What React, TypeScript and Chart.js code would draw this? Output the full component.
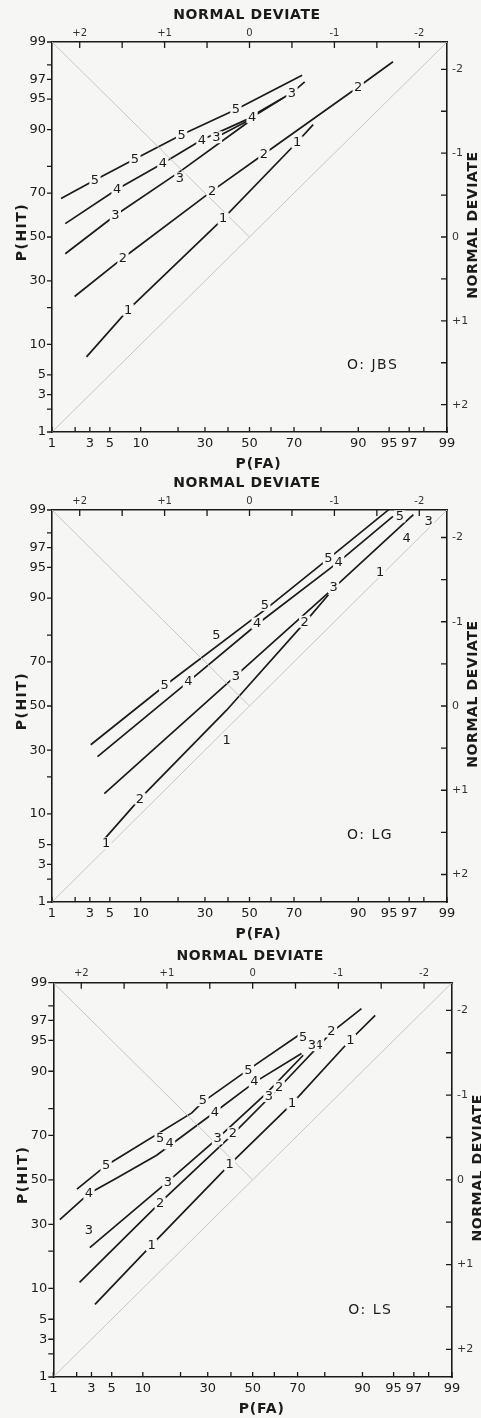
import React, { useEffect, useRef } from "react";
import { Chart, registerables } from "chart.js";

Chart.register(...registerables);

type Pt = [number, number];
type Mark = [string, number, number];

// ---------- axis ticks (probabilities in %, normal deviates) ----------
const P_TICK_LABELS = [1, 3, 5, 10, 30, 50, 70, 90, 95, 97, 99];
const FA_TICK_MARKS = [1, 2, 3, 5, 10, 20, 30, 40, 50, 60, 70, 80, 90, 95, 97, 98, 99];
const HIT_TICK_MARKS = [1, 2, 3, 5, 10, 20, 30, 50, 70, 80, 90, 95, 97, 98, 99];
const DEVIATE_LABELS = [-2, -1, 0, 1, 2];
const DEVIATE_MARKS = [-2, -1.5, -1, -0.5, 0, 0.5, 1, 1.5, 2];

// ---------- data: points as [z(FA), z(HIT)] (normal deviate units) ----------
// Observer JBS
const JBS_LINE_5: Pt[] = [[-2.22, 0.46], [-1.82, 0.68], [-1.35, 0.93], [-0.8, 1.22], [-0.16, 1.52], [0.62, 1.93]];
const JBS_LINE_4: Pt[] = [[-2.17, 0.16], [-1.56, 0.57], [-1.02, 0.88], [-0.56, 1.16], [0.03, 1.43], [0.4, 1.66]];
const JBS_LINE_3: Pt[] = [[-2.17, -0.2], [-1.58, 0.26], [-0.82, 0.78], [-0.03, 1.36], [0.09, 1.48], [0.5, 1.72], [0.65, 1.85]];
const JBS_LINE_3B: Pt[] = [[-0.39, 1.19], [-0.03, 1.38]];
const JBS_LINE_2: Pt[] = [[-2.06, -0.71], [-1.49, -0.25], [-0.44, 0.55], [0.17, 0.99], [1.28, 1.79], [1.69, 2.09]];
const JBS_LINE_1: Pt[] = [[-1.92, -1.43], [-1.43, -0.87], [-0.31, 0.22], [0.56, 1.13], [0.75, 1.34]];
const JBS_POINTS: Mark[] = [
  ["5", -1.82, 0.68], ["5", -1.35, 0.93], ["5", -0.8, 1.22], ["5", -0.16, 1.52],
  ["4", -1.56, 0.57], ["4", -1.02, 0.88], ["4", -0.56, 1.16], ["4", 0.03, 1.43],
  ["3", -1.58, 0.26], ["3", -0.82, 0.7], ["3", -0.39, 1.19], ["3", 0.5, 1.72],
  ["2", -1.49, -0.25], ["2", -0.44, 0.55], ["2", 0.17, 0.99], ["2", 1.28, 1.79],
  ["1", -1.43, -0.87], ["1", -0.31, 0.22], ["1", 0.56, 1.13],
];

// Observer LG
const LG_LINE_5: Pt[] = [[-1.87, -0.46], [-1.0, 0.24], [0.18, 1.14], [0.93, 1.75], [1.64, 2.33]];
const LG_LINE_4: Pt[] = [[-1.79, -0.6], [-0.72, 0.29], [0.09, 0.97], [1.05, 1.71], [1.69, 2.25]];
const LG_LINE_3: Pt[] = [[-1.71, -1.04], [-0.16, 0.36], [0.99, 1.4], [1.93, 2.27]];
const LG_LINE_2: Pt[] = [[-1.71, -1.58], [-1.29, -1.1], [-0.27, -0.05], [0.65, 0.99], [0.93, 1.32]];
const LG_POINTS: Mark[] = [
  ["5", -1.0, 0.25], ["5", -0.39, 0.84], ["5", 0.18, 1.2], ["5", 0.93, 1.75], ["5", 1.77, 2.25],
  ["4", -0.72, 0.29], ["4", 0.09, 0.98], ["4", 1.05, 1.71], ["4", 1.85, 1.99],
  ["3", -0.16, 0.36], ["3", 0.99, 1.41], ["3", 2.11, 2.19],
  ["2", -1.29, -1.1], ["2", 0.65, 1.0],
  ["1", -1.69, -1.63], ["1", -0.27, -0.4], ["1", 1.54, 1.59],
];

// Observer LS
const LS_LINE_5: Pt[] = [[-2.05, -0.11], [-1.71, 0.17], [-0.71, 0.79], [-0.58, 0.92], [-0.05, 1.3], [0.57, 1.73]];
const LS_LINE_4: Pt[] = [[-2.25, -0.47], [-1.91, -0.16], [-1.59, 0.02], [-1.12, 0.29], [-0.44, 0.8], [0.02, 1.15], [0.57, 1.49]];
const LS_LINE_3: Pt[] = [[-1.9, -0.8], [-1.0, -0.03], [-0.41, 0.49], [0.16, 1.02], [0.59, 1.47]];
const LS_LINE_2: Pt[] = [[-2.02, -1.21], [-1.08, -0.27], [-0.23, 0.54], [0.31, 1.09], [0.92, 1.74], [1.27, 2.02]];
const LS_LINE_1: Pt[] = [[-1.84, -1.47], [-1.18, -0.77], [-0.27, 0.18], [0.46, 0.9], [1.14, 1.65], [1.43, 1.94]];
const LS_POINTS: Mark[] = [
  ["5", -1.71, 0.17], ["5", -1.08, 0.49], ["5", -0.58, 0.94], ["5", -0.05, 1.29], ["5", 0.59, 1.68],
  ["4", -1.91, -0.16], ["4", -0.97, 0.43], ["4", -0.44, 0.8], ["4", 0.02, 1.16], ["4", 0.77, 1.59],
  ["3", -1.91, -0.59], ["3", -0.99, -0.03], ["3", -0.41, 0.49], ["3", 0.19, 0.99], ["3", 0.69, 1.59],
  ["2", -1.08, -0.27], ["2", -0.23, 0.55], ["2", 0.31, 1.1], ["2", 0.92, 1.75],
  ["1", -1.18, -0.77], ["1", -0.27, 0.18], ["1", 0.46, 0.9], ["1", 1.14, 1.65],
];

// ---------- helpers ----------
function probit(p: number): number {
  const a = [-39.69683028665376, 220.9460984245205, -275.9285104469687, 138.357751867269, -30.66479806614716, 2.506628277459239];
  const b = [-54.47609879822406, 161.5858368580409, -155.6989798598866, 66.80131188771972, -13.28068155288572];
  const c = [-0.007784894002430293, -0.3223964580411365, -2.400758277161838, -2.549671043384486, 4.374664141464968, 2.938163982698783];
  const d = [0.007784695709041462, 0.3224671290700398, 2.445134137142996, 3.754408661907416];
  const plow = 0.02425;
  if (p < plow) {
    const q = Math.sqrt(-2 * Math.log(p));
    return (((((c[0] * q + c[1]) * q + c[2]) * q + c[3]) * q + c[4]) * q + c[5]) / ((((d[0] * q + d[1]) * q + d[2]) * q + d[3]) * q + 1);
  }
  if (p <= 1 - plow) {
    const q = p - 0.5;
    const r = q * q;
    return ((((((a[0] * r + a[1]) * r + a[2]) * r + a[3]) * r + a[4]) * r + a[5]) * q) / (((((b[0] * r + b[1]) * r + b[2]) * r + b[3]) * r + b[4]) * r + 1);
  }
  const q = Math.sqrt(-2 * Math.log(1 - p));
  return -(((((c[0] * q + c[1]) * q + c[2]) * q + c[3]) * q + c[4]) * q + c[5]) / ((((d[0] * q + d[1]) * q + d[2]) * q + d[3]) * q + 1);
}

const Z_MIN = probit(0.01);
const Z_MAX = probit(0.99);
const BG = "#f6f6f4";
const INK = "#1b1b1b";
const GRAY = "#c6c6c4";
const FONT = '"DejaVu Sans", "Liberation Sans", sans-serif';

function deviateLabel(z: number): string {
  if (z === 0) return "0";
  return z < 0 ? "+" + -z : "-" + z;
}

type Frame = { canvasTop: number; canvasH: number; left: number; right: number; top: number; bottom: number };
type PanelCfg = { name: string; lines: Pt[][]; points: Mark[]; frame: Frame };

const PANELS: PanelCfg[] = [
  {
    name: "O: JBS",
    lines: [JBS_LINE_5, JBS_LINE_4, JBS_LINE_3, JBS_LINE_3B, JBS_LINE_2, JBS_LINE_1],
    points: JBS_POINTS,
    frame: { canvasTop: 0, canvasH: 474, left: 52, right: 447, top: 42, bottom: 432 },
  },
  {
    name: "O: LG",
    lines: [LG_LINE_5, LG_LINE_4, LG_LINE_3, LG_LINE_2],
    points: LG_POINTS,
    frame: { canvasTop: 474, canvasH: 470, left: 52, right: 447, top: 510, bottom: 902 },
  },
  {
    name: "O: LS",
    lines: [LS_LINE_5, LS_LINE_4, LS_LINE_3, LS_LINE_2, LS_LINE_1],
    points: LS_POINTS,
    frame: { canvasTop: 944, canvasH: 474, left: 53.3, right: 452, top: 982.7, bottom: 1377 },
  },
];

function Panel({ cfg }: { cfg: PanelCfg }) {
  const ref = useRef<HTMLCanvasElement | null>(null);
  const f = cfg.frame;

  useEffect(() => {
    const canvas = ref.current;
    if (!canvas) return;

    const lineStyle = { borderColor: INK, borderWidth: 1.7, pointRadius: 0, showLine: true, fill: false, tension: 0 };
    const diagStyle = { borderColor: GRAY, borderWidth: 1, pointRadius: 0, showLine: true, fill: false, tension: 0 };

    const datasets: any[] = [
      { ...diagStyle, data: [{ x: Z_MIN, y: Z_MIN }, { x: Z_MAX, y: Z_MAX }] },
      { ...diagStyle, data: [{ x: Z_MIN, y: Z_MAX }, { x: 0, y: 0 }] },
      ...cfg.lines.map((l) => ({ ...lineStyle, data: l.map(([x, y]) => ({ x, y })) })),
    ];

    const pTicks = (s: any) => {
      s.ticks = P_TICK_LABELS.map((p) => ({ value: probit(p / 100) }));
    };
    const zTicks = (s: any) => {
      s.ticks = DEVIATE_LABELS.map((v) => ({ value: v }));
    };
    const base = {
      type: "linear" as const,
      min: Z_MIN,
      max: Z_MAX,
      grid: { display: false, drawTicks: false, tickLength: 0 },
      border: { display: true, color: INK, width: 1.6 },
    };

    const overlay = {
      id: "overlay",
      afterDatasetsDraw(chart: any) {
        const { ctx } = chart;
        const sx = chart.scales.x;
        const sy = chart.scales.y;
        ctx.save();
        ctx.font = `13px ${FONT}`;
        ctx.textAlign = "center";
        ctx.textBaseline = "middle";
        for (const [t, x, y] of cfg.points) {
          const px = sx.getPixelForValue(x);
          const py = sy.getPixelForValue(y);
          const w = ctx.measureText(t).width + 3;
          ctx.fillStyle = BG;
          ctx.fillRect(px - w / 2, py - 6, w, 12);
          ctx.fillStyle = INK;
          ctx.fillText(t, px, py + 0.5);
        }
        ctx.restore();
      },
      afterDraw(chart: any) {
        const { ctx, chartArea } = chart;
        const { left, right, top, bottom } = chartArea;
        const sx = chart.scales.x;
        const sy = chart.scales.y;
        const sxt = chart.scales.xTop;
        const syr = chart.scales.yRight;
        ctx.save();
        ctx.strokeStyle = INK;
        ctx.lineWidth = 1.3;
        ctx.beginPath();
        for (const p of FA_TICK_MARKS) {
          const x = sx.getPixelForValue(probit(p / 100));
          ctx.moveTo(x, bottom);
          ctx.lineTo(x, bottom - 5);
        }
        for (const p of HIT_TICK_MARKS) {
          const y = sy.getPixelForValue(probit(p / 100));
          ctx.moveTo(left, y);
          ctx.lineTo(left - 5, y);
        }
        for (const z of DEVIATE_MARKS) {
          const x = sxt.getPixelForValue(z);
          ctx.moveTo(x, top);
          ctx.lineTo(x, top + 6);
          const y = syr.getPixelForValue(z);
          ctx.moveTo(right, y);
          ctx.lineTo(right - 6, y);
        }
        ctx.stroke();

        ctx.fillStyle = INK;
        ctx.textBaseline = "middle";
        ctx.textAlign = "center";
        const midX = (left + right) / 2;
        const midY = (top + bottom) / 2;

        ctx.font = `bold 14px ${FONT}`;
        (ctx as any).letterSpacing = "0.6px";
        ctx.fillText("NORMAL DEVIATE", midX - 2.5, top - 26.5);

        ctx.save();
        ctx.translate(right + 26, midY - 12);
        ctx.rotate(-Math.PI / 2);
        ctx.fillText("NORMAL DEVIATE", 0, 0);
        ctx.restore();

        (ctx as any).letterSpacing = "1.5px";
        ctx.save();
        ctx.translate(left - 30, midY - 5);
        ctx.rotate(-Math.PI / 2);
        ctx.fillText("P(HIT)", 0, 0);
        ctx.restore();

        (ctx as any).letterSpacing = "0.8px";
        ctx.fillText("P(FA)", midX + 9, bottom + 32);

        ctx.font = `14px ${FONT}`;
        (ctx as any).letterSpacing = "1.5px";
        ctx.textAlign = "left";
        ctx.fillText(cfg.name, left + 295, bottom - 67);
        ctx.restore();
      },
    };

    const chart = new Chart(canvas, {
      type: "scatter",
      data: { datasets },
      options: {
        animation: false,
        responsive: false,
        events: [],
        layout: { padding: 0 },
        plugins: { legend: { display: false }, tooltip: { enabled: false } },
        scales: {
          x: {
            ...base,
            position: "bottom",
            afterBuildTicks: pTicks,
            afterFit: (s: any) => {
              s.height = f.canvasTop + f.canvasH - f.bottom;
            },
            ticks: {
              autoSkip: false,
              maxRotation: 0,
              padding: 4,
              color: INK,
              font: { family: FONT, size: 13 },
              callback: (_v: any, i: number) => String(P_TICK_LABELS[i]),
            },
          },
          xTop: {
            ...base,
            position: "top",
            display: true,
            afterBuildTicks: zTicks,
            afterFit: (s: any) => {
              s.height = f.top - f.canvasTop;
            },
            ticks: {
              autoSkip: false,
              maxRotation: 0,
              padding: 3,
              color: "#333",
              font: { family: FONT, size: 10 },
              callback: (v: any) => deviateLabel(Number(v)),
            },
          },
          y: {
            ...base,
            position: "left",
            afterBuildTicks: pTicks,
            afterFit: (s: any) => {
              s.width = f.left;
            },
            ticks: {
              autoSkip: false,
              padding: 6,
              color: INK,
              font: { family: FONT, size: 13 },
              callback: (_v: any, i: number) => String(P_TICK_LABELS[i]),
            },
          },
          yRight: {
            ...base,
            position: "right",
            display: true,
            afterBuildTicks: zTicks,
            afterFit: (s: any) => {
              s.width = 481 - f.right;
            },
            ticks: {
              autoSkip: false,
              padding: 5,
              color: "#333",
              font: { family: FONT, size: 11 },
              callback: (v: any) => deviateLabel(Number(v)),
            },
          },
        } as any,
      },
      plugins: [overlay],
    });
    return () => chart.destroy();
  }, [cfg]);

  return (
    <canvas
      ref={ref}
      width={481}
      height={f.canvasH}
      style={{ position: "absolute", left: 0, top: f.canvasTop, width: 481, height: f.canvasH, display: "block" }}
    />
  );
}

export default function App() {
  return (
    <div style={{ position: "absolute", left: 0, top: 0, width: 481, height: 1418, background: BG, overflow: "hidden" }}>
      {PANELS.map((p) => (
        <Panel key={p.name} cfg={p} />
      ))}
    </div>
  );
}
